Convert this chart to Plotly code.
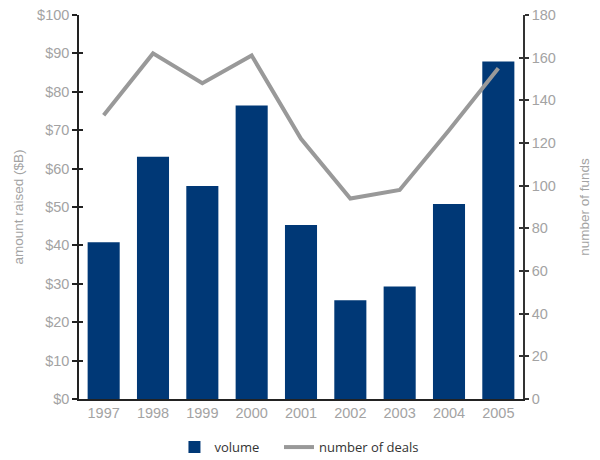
import plotly.graph_objects as go

# Fund-raising by year
years = ["1997", "1998", "1999", "2000", "2001", "2002", "2003", "2004", "2005"]
volume_bn = [40.8, 63.1, 55.5, 76.4, 45.3, 25.7, 29.3, 50.8, 87.9]
num_deals = [133, 162, 148, 161, 122, 94, 98, 126, 155]

left_ticks = list(range(0, 101, 10))
left_labels = ["$" + str(v) for v in left_ticks]
right_ticks = list(range(0, 181, 20))

BAR_COLOR = "#003876"
LINE_COLOR = "#999999"
SANS = "Liberation Sans"
TICK_FONT = dict(family=SANS, size=14.5, color="#a3a3a3")
TITLE_FONT = dict(family=SANS, size=13.5, color="#a3a3a3")
LEGEND_FONT = dict(family="Open Sans", size=13, color="#333333")

fig = go.Figure()
fig.add_trace(go.Bar(
    x=years, y=volume_bn, name="volume",
    marker=dict(color=BAR_COLOR, line=dict(width=0)),
    yaxis="y", legend="legend",
))
fig.add_trace(go.Scatter(
    x=years, y=num_deals, name="number of deals", mode="lines",
    line=dict(color=LINE_COLOR, width=4),
    yaxis="y2", legend="legend2",
))

legend_common = dict(
    orientation="h", xanchor="left",
    yref="container", y=0.028, yanchor="middle",
    font=LEGEND_FONT, bgcolor="rgba(0,0,0,0)",
)

fig.update_layout(
    width=600, height=460,
    margin=dict(l=79, r=77, t=15, b=61, autoexpand=False),
    paper_bgcolor="white", plot_bgcolor="white",
    bargap=0.35,
    showlegend=True,
    legend=dict(x=0.215, **legend_common),
    legend2=dict(x=0.4505, **legend_common),
    xaxis=dict(
        type="category", range=[-0.5, 8.5], automargin=False,
        showline=True, linecolor="#222222", linewidth=1.5,
        ticks="", tickfont=TICK_FONT, showgrid=False, zeroline=False,
    ),
    yaxis=dict(
        range=[0, 100], tickmode="array", tickvals=left_ticks, ticktext=left_labels,
        automargin=False,
        showline=True, linecolor="#222222", linewidth=1.5,
        ticks="outside", ticklen=5, tickwidth=1.5, tickcolor="#222222",
        tickfont=TICK_FONT, showgrid=False, zeroline=False,
        title=dict(text="amount raised ($B)", font=TITLE_FONT, standoff=10),
    ),
    yaxis2=dict(
        range=[0, 180], tickmode="array", tickvals=right_ticks,
        overlaying="y", side="right", automargin=False,
        showline=True, linecolor="#333333", linewidth=1.5,
        ticks="outside", ticklen=4, tickwidth=1.5, tickcolor="#333333",
        tickfont=TICK_FONT, showgrid=False, zeroline=False,
        title=dict(text="number of funds", font=TITLE_FONT, standoff=25),
    ),
    # inner halves of the crossing tick marks
    yaxis3=dict(
        range=[0, 100], tickmode="array", tickvals=left_ticks,
        overlaying="y", side="left", automargin=False,
        ticks="inside", ticklen=4, tickwidth=1.5, tickcolor="#222222",
        showticklabels=False, showgrid=False, zeroline=False, showline=False,
    ),
    yaxis4=dict(
        range=[0, 180], tickmode="array", tickvals=right_ticks,
        overlaying="y", side="right", automargin=False,
        ticks="inside", ticklen=4, tickwidth=1.5, tickcolor="#333333",
        showticklabels=False, showgrid=False, zeroline=False, showline=False,
    ),
)

# invisible traces that anchor the overlay tick axes
fig.add_trace(go.Scatter(x=[years[0]], y=[0], yaxis="y3", mode="markers",
                         marker=dict(opacity=0), showlegend=False, hoverinfo="skip"))
fig.add_trace(go.Scatter(x=[years[0]], y=[0], yaxis="y4", mode="markers",
                         marker=dict(opacity=0), showlegend=False, hoverinfo="skip"))

fig.write_html("out.html")
